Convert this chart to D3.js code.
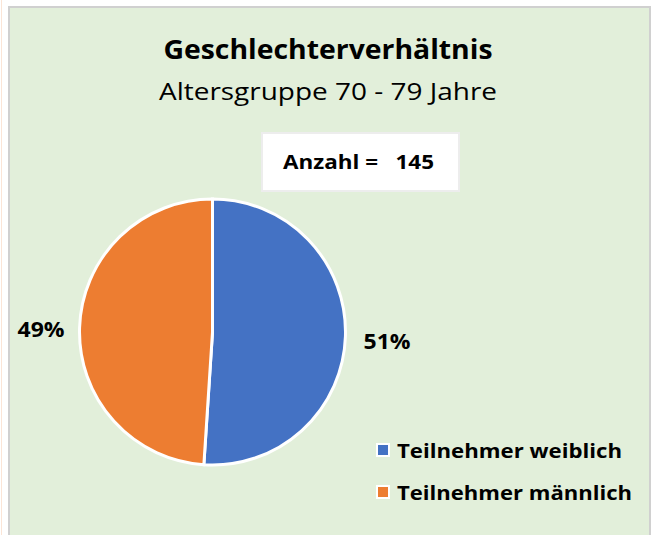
<!DOCTYPE html>
<html>
<head>
<meta charset="utf-8">
<script src="https://cdn.jsdelivr.net/npm/d3@7"></script>
<style>
  body { margin: 0; background: #fff; }
  text { font-family: "Open Sans", Lato, sans-serif; }
</style>
</head>
<body>
<div id="chart"></div>
<script>
// data
const categories = ["Teilnehmer weiblich", "Teilnehmer männlich"];
const counts = [74, 71];
const colors = ["#4472C4", "#ED7D31"];
const titleText = "Geschlechterverhältnis";
const subtitleText = "Altersgruppe 70 - 79 Jahre";

const width = 658, height = 535;
const total = d3.sum(counts);

let svg = d3.select("#chart").append("svg")
    .attr("width", width)
    .attr("height", height);

// faint line at the very left
svg.append("line")
    .attr("x1", 1.5).attr("x2", 1.5).attr("y1", 0).attr("y2", height)
    .attr("stroke", "#FBE5D6").attr("stroke-width", 1);

// panel
svg.append("rect")
    .attr("x", 9).attr("y", 7)
    .attr("width", 641).attr("height", height)
    .attr("fill", "#E2EFDA")
    .attr("stroke", "#D0D0D0")
    .attr("stroke-width", 2);

// titles
svg.append("text")
    .attr("x", 328).attr("y", 59)
    .attr("text-anchor", "middle")
    .attr("font-size", "26px")
    .attr("font-weight", "bold")
    .attr("textLength", 329)
    .attr("lengthAdjust", "spacingAndGlyphs")
    .attr("fill", "#000")
    .text(titleText);

svg.append("text")
    .attr("x", 328).attr("y", 100)
    .attr("text-anchor", "middle")
    .attr("font-size", "23px")
    .attr("textLength", 338)
    .attr("lengthAdjust", "spacingAndGlyphs")
    .attr("fill", "#000")
    .text(subtitleText);

// Anzahl box
svg.append("rect")
    .attr("x", 262).attr("y", 133)
    .attr("width", 197).attr("height", 58)
    .attr("fill", "#fff")
    .attr("stroke", "#EDEDED")
    .attr("stroke-width", 2);

svg.append("text")
    .attr("x", 283).attr("y", 169)
    .attr("font-size", "19px")
    .attr("font-weight", "bold")
    .attr("xml:space", "preserve")
    .style("white-space", "pre")
    .attr("textLength", 151)
    .attr("lengthAdjust", "spacingAndGlyphs")
    .text("Anzahl =   " + total);

// pie
const cx = 212.5, cy = 332, r = 133;
const pie = d3.pie().sort(null)(counts);
const arc = d3.arc().innerRadius(0).outerRadius(r);

let g = svg.append("g").attr("transform", `translate(${cx},${cy})`);

g.selectAll("path")
    .data(pie)
    .enter()
    .append("path")
    .attr("d", arc)
    .attr("fill", (d, i) => colors[i])
    .attr("stroke", "#fff")
    .attr("stroke-width", 3);

// percentage labels outside
const labelPos = [[387, 340], [41, 328]];
g.selectAll("text.pct")
    .data(pie)
    .enter()
    .append("text")
    .attr("class", "pct")
    .attr("x", (d, i) => labelPos[i][0] - cx)
    .attr("y", (d, i) => labelPos[i][1] - cy)
    .attr("text-anchor", "middle")
    .attr("dominant-baseline", "central")
    .attr("font-size", "22px")
    .attr("font-weight", "bold")
    .attr("textLength", 47)
    .attr("lengthAdjust", "spacingAndGlyphs")
    .text(d => Math.round(d.data / total * 100) + "%");

// legend
let legend = svg.append("g")
    .selectAll("g")
    .data(categories)
    .enter()
    .append("g")
    .attr("transform", (d, i) => `translate(377,${444 + i * 42})`);

legend.append("rect")
    .attr("width", 12).attr("height", 12)
    .attr("fill", (d, i) => colors[i])
    .attr("stroke", "#fff")
    .attr("stroke-width", 2);

legend.append("text")
    .attr("x", 20).attr("y", 6)
    .attr("dominant-baseline", "central")
    .attr("font-size", "20px")
    .attr("font-weight", "bold")
    .attr("textLength", (d, i) => [225, 235][i])
    .attr("lengthAdjust", "spacingAndGlyphs")
    .text(d => d);
</script>
</body>
</html>
